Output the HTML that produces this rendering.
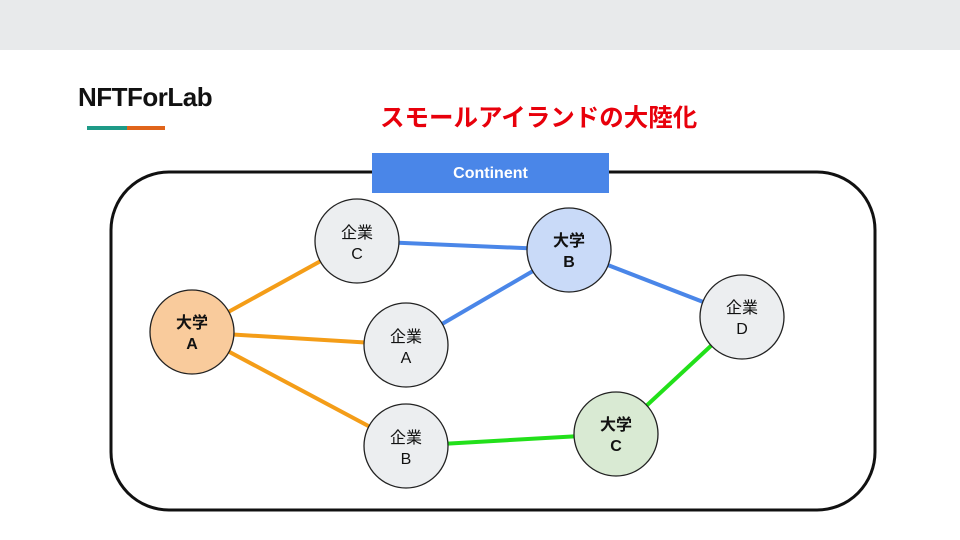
<!DOCTYPE html>
<html><head><meta charset="utf-8"><style>
body{margin:0;width:960px;height:540px;background:#fff;overflow:hidden;position:relative;font-family:"Liberation Sans","Noto Sans CJK JP",sans-serif}
</style></head><body>
<div style="position:absolute;left:0;top:0;width:960px;height:50px;background:#e8eaeb"></div>
<div style="position:absolute;left:78px;top:82px;font-size:26px;font-weight:bold;color:#111;letter-spacing:-0.5px">NFTForLab</div>
<div style="position:absolute;left:87px;top:126px;width:40px;height:4px;background:#1e9a87"></div>
<div style="position:absolute;left:127px;top:126px;width:38px;height:4px;background:#e0641a"></div>
<div style="position:absolute;left:380px;top:99px;font-size:24.5px;font-weight:bold;color:#e8000b">スモールアイランドの大陸化</div>
<svg width="960" height="540" style="position:absolute;left:0;top:0">
<rect x="111" y="172" width="764" height="338" rx="58" fill="none" stroke="#111" stroke-width="3"/>
<g stroke-width="4">
<line x1="192" y1="332" x2="357" y2="241" stroke="#f49d18"/>
<line x1="192" y1="332" x2="406" y2="345" stroke="#f49d18"/>
<line x1="192" y1="332" x2="406" y2="446" stroke="#f49d18"/>
<line x1="357" y1="241" x2="569" y2="250" stroke="#4a86e8"/>
<line x1="406" y1="345" x2="569" y2="250" stroke="#4a86e8"/>
<line x1="569" y1="250" x2="742" y2="317" stroke="#4a86e8"/>
<line x1="406" y1="446" x2="616" y2="434" stroke="#22e01a"/>
<line x1="616" y1="434" x2="742" y2="317" stroke="#22e01a"/>
</g>
<g stroke="#222" stroke-width="1.3">
<circle cx="192" cy="332" r="42" fill="#f9cb9c"/>
<circle cx="357" cy="241" r="42" fill="#eceef0"/>
<circle cx="406" cy="345" r="42" fill="#eceef0"/>
<circle cx="406" cy="446" r="42" fill="#eceef0"/>
<circle cx="569" cy="250" r="42" fill="#c9daf8"/>
<circle cx="742" cy="317" r="42" fill="#eceef0"/>
<circle cx="616" cy="434" r="42" fill="#d9ead3"/>
</g>
<g font-size="16" text-anchor="middle" fill="#111" font-family="Liberation Sans, Noto Sans CJK JP, sans-serif">
<text x="192" y="328" font-weight="bold">大学</text><text x="192" y="349" font-weight="bold">A</text>
<text x="357" y="238">企業</text><text x="357" y="259">C</text>
<text x="406" y="342">企業</text><text x="406" y="363">A</text>
<text x="406" y="443">企業</text><text x="406" y="464">B</text>
<text x="569" y="246" font-weight="bold">大学</text><text x="569" y="267" font-weight="bold">B</text>
<text x="742" y="313">企業</text><text x="742" y="334">D</text>
<text x="616" y="430" font-weight="bold">大学</text><text x="616" y="451" font-weight="bold">C</text>
</g>
</svg>
<div style="position:absolute;left:372px;top:153px;width:237px;height:40px;background:#4a86e8;color:#fff;font-weight:bold;font-size:16px;line-height:42px;text-align:center">Continent</div>
</body></html>
